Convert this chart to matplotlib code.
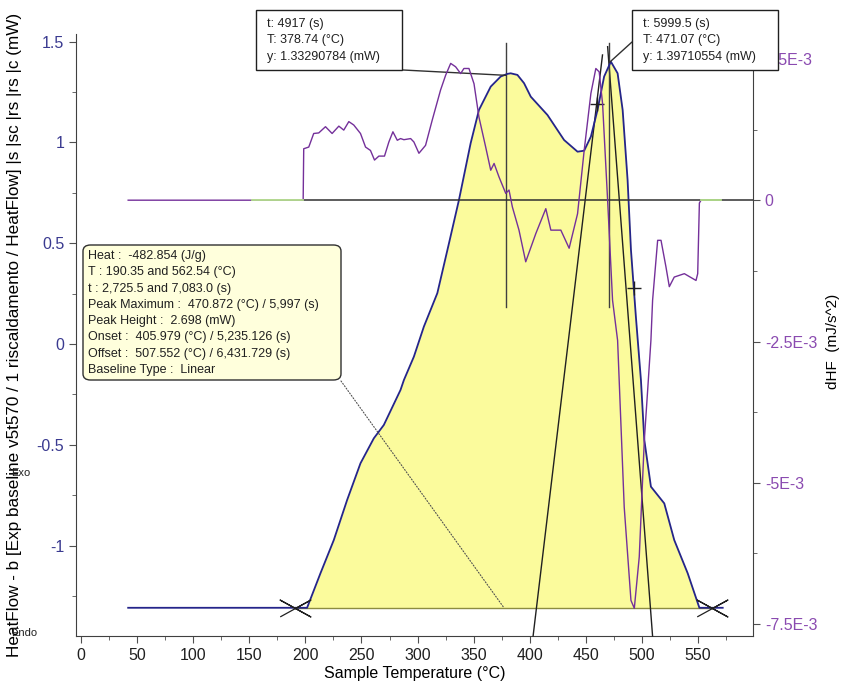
import numpy as np
import matplotlib.pyplot as plt
from matplotlib.patches import Rectangle, FancyBboxPatch
from matplotlib.ticker import MultipleLocator, FuncFormatter

plt.rcParams['font.family'] = ['Liberation Sans', 'DejaVu Sans']

# heat flow (mW)
temp_hf = [42, 190.35, 201.5, 213.4, 225.3, 237.2, 249.1, 261, 269.9, 284.8, 287.8,
           296.7, 305.6, 317.6, 328, 336.9, 347.3, 354.7, 365.2, 374.1, 380, 383,
           389, 394.9, 400.9, 415.8, 430.6, 442.6, 448.5, 454.5, 460.4, 466.3, 472.3,
           478.3, 482.8, 487.2, 490.2, 494.6, 499.1, 502.1, 508, 519.9, 528.8, 540.8,
           551.2, 572]
heat_flow = [-1.309, -1.309, -1.309, -1.138, -0.973, -0.774, -0.592, -0.468, -0.402,
             -0.228, -0.179, -0.063, 0.086, 0.252, 0.500, 0.715, 0.996, 1.161, 1.277,
             1.327, 1.340, 1.343, 1.335, 1.294, 1.227, 1.136, 1.012, 0.954, 0.959, 1.029,
             1.161, 1.327, 1.401, 1.343, 1.161, 0.814, 0.467, 0.135, -0.179, -0.476,
             -0.708, -0.791, -0.973, -1.138, -1.309, -1.309]

# derivative dHF (mJ/s^2)
temp_d = [42, 198.0, 198.5, 203, 207.4, 211.9, 217.9, 223.8, 229.8, 234.2, 238.7, 243.1,
          249.1, 253.6, 258, 261.6, 265.5, 270.5, 274.4, 278, 281.9, 284.8, 287.8,
          293.8, 296.7, 301.2, 307.1, 313.1, 320.5, 325, 329.5, 333.9, 338.4, 341.3,
          345.8, 350.3, 354.7, 360.7, 365.2, 368.2, 372.6, 378.6, 381.5, 384.5, 390.4,
          396.4, 405.4, 414.3, 418.8, 427.7, 435.1, 442.6, 448.5, 454.5, 458.9, 461.9,
          464.9, 469.4, 473.8, 478.3, 484.2, 490.2, 493.2, 497.6, 502.1, 505.1, 508,
          509.5, 514, 517, 521.4, 524.4, 528.8, 537.8, 548.2, 549.7, 551.2, 552.7]
dhf = [0, 0, 0.91, 0.94, 1.18, 1.19, 1.30, 1.18, 1.31, 1.24, 1.39, 1.33,
       1.18, 0.94, 0.88, 0.71, 0.78, 0.78, 1.03, 1.21, 1.06, 1.09, 1.07,
       1.09, 1.03, 0.83, 0.97, 1.42, 1.95, 2.21, 2.42, 2.36, 2.24, 2.33,
       2.33, 2.06, 1.47, 0.94, 0.53, 0.65, 0.41, 0.12, 0.18, -0.12, -0.53,
       -1.09, -0.59, -0.15, -0.53, -0.53, -0.85, -0.24, 0.88, 1.89, 2.33, 2.27,
       1.71, 0.0, -1.77, -2.48, -5.43, -7.08, -7.22, -6.31, -4.25, -3.36, -2.48,
       -1.77, -0.71, -0.71, -1.18, -1.53, -1.36, -1.30, -1.42, -1.30, -0.05, 0]
dhf = [v * 1e-3 for v in dhf]
green_parts = [(152, 198), (552.7, 570.5)]

# integration results
t_start, t_end = 190.35, 562.54
baseline = -1.309
onset, offset = 405.979, 507.552
onset_slope, offset_slope = 0.0466, -0.073
cursor_T = [378.74, 471.07]
cursor_y = [1.33290784, 1.39710554]
cursor_t = ['4917', '5999.5']
marks_T = [459.5, 492.9]
marks_y = [1.191, 0.278]

info_lines = ['Heat :  -482.854 (J/g)',
              'T : 190.35 and 562.54 (°C)',
              't : 2,725.5 and 7,083.0 (s)',
              'Peak Maximum :  470.872 (°C) / 5,997 (s)',
              'Peak Height :  2.698 (mW)',
              'Onset :  405.979 (°C) / 5,235.126 (s)',
              'Offset :  507.552 (°C) / 6,431.729 (s)',
              'Baseline Type :  Linear']

W, H = 842, 686
navy = '#25258a'
purple = '#74309a'
green = '#b4e08c'

fig = plt.figure(figsize=(W / 100, H / 100), dpi=100)
ax = fig.add_axes([76 / W, 1 - 636 / H, 677 / W, 602 / H])
ax.set_xlim(-4.5, 599)
ax.set_ylim(-1.449, 1.538)

# yellow peak area
T = np.array(temp_hf)
Y = np.array(heat_flow)
Tf = np.linspace(t_start, t_end, 600)
Yf = np.interp(Tf, T, Y)
ax.fill_between(Tf, Yf, baseline, color='#fbfb9c', lw=0, zorder=1)
ax.plot([t_start, t_end], [baseline, baseline], color='#8c8c40', lw=1, zorder=2)

ax.plot(T, Y, color=navy, lw=1.3, zorder=5)

# tangents for onset / offset
ax.plot([onset + (-1.449 - baseline) / onset_slope, onset + (1.434 - baseline) / onset_slope],
        [-1.449, 1.434], color='#202020', lw=1, zorder=4, clip_on=False)
ax.plot([offset + (1.475 - baseline) / offset_slope, offset + (-1.449 - baseline) / offset_slope],
        [1.475, -1.449], color='#202020', lw=1, zorder=4, clip_on=False)

# cursors
for ct in cursor_T:
    ax.plot([ct, ct], [0.185, 1.494], color='#404040', lw=1, zorder=4)
ax.plot(marks_T, marks_y, '+', color='#202020', ms=10, mew=1, zorder=6)

# integration limit crosses
xm = [(-1, -0.55), (1, 0.55), (0, 0), (-1, 0.55), (1, -0.55), (0, 0)]
for tl in (t_start, t_end):
    ax.plot([tl], [baseline], marker=xm, ms=22, mfc='none', mec='#202020', mew=0.9,
            ls='none', zorder=6)

ax.xaxis.set_major_locator(MultipleLocator(50))
ax.xaxis.set_minor_locator(MultipleLocator(25))
ax.yaxis.set_major_locator(MultipleLocator(0.5))
ax.yaxis.set_minor_locator(MultipleLocator(0.25))
ax.yaxis.set_major_formatter(FuncFormatter(lambda v, p: f'{v:g}'))
ax.tick_params(axis='both', which='major', direction='out', length=5, labelsize=11.5,
               color='#505050')
ax.tick_params(axis='both', which='minor', direction='out', length=3, color='#505050')
ax.tick_params(axis='y', labelcolor='#3a3a90')
ax.tick_params(axis='x', labelcolor='#202020')
ax.spines['top'].set_visible(False)
ax.spines['right'].set_visible(False)
for s in ('left', 'bottom'):
    ax.spines[s].set_color('#404040')
ax.set_xlabel('Sample Temperature (°C)', fontsize=11.5, labelpad=2)
ax.set_ylabel('HeatFlow - b [Exp baseline v5t570 / 1 riscaldamento / HeatFlow] |s |sc |rs |rs |c (mW)',
              fontsize=12.3)
ax.yaxis.set_label_coords(-0.08, 0.5)

# derivative on right axis
ax2 = ax.twinx()
ax2.set_ylim(-7.71e-3, 2.94e-3)
ax2.plot([197, 599], [0, 0], color='#303030', lw=1.1, zorder=3)
ax2.plot(temp_d, dhf, color=purple, lw=1.0, zorder=4)
for g0, g1 in green_parts:
    ax2.plot([g0, g1], [0, 0], color=green, lw=1.3, zorder=4)
ax2.yaxis.set_major_locator(MultipleLocator(2.5e-3))
ax2.yaxis.set_minor_locator(MultipleLocator(1.25e-3))
ax2.yaxis.set_major_formatter(FuncFormatter(
    lambda v, p: '0' if abs(v) < 1e-9 else f'{v * 1e3:g}E-3'))
ax2.tick_params(axis='y', which='major', direction='out', length=5, labelsize=11.5,
                color='#505050', labelcolor='#8a4ab0')
ax2.tick_params(axis='y', which='minor', direction='out', length=3, color='#505050')
ax2.spines['top'].set_visible(False)
ax2.spines['left'].set_visible(False)
ax2.spines['bottom'].set_visible(False)
ax2.spines['right'].set_color('#404040')
ax2.set_ylabel('dHF  (mJ/s^2)', fontsize=11)
ax2.yaxis.set_label_coords(1.108, 0.49)

# cursor boxes with leader lines
box_x = [256, 632]
for i in range(2):
    fig.add_artist(Rectangle((box_x[i] / W, 1 - 70 / H), 146 / W, 60 / H,
                             transform=fig.transFigure, fc='white', ec='#202020', lw=1))
    txt = [f't: {cursor_t[i]} (s)', f'T: {cursor_T[i]:.2f} (°C)', f'y: {cursor_y[i]:.8f} (mW)']
    for j, line in enumerate(txt):
        fig.text((box_x[i] + 11) / W, 1 - (24 + 16.3 * j) / H, line, fontsize=9,
                 va='center', ha='left', color='#202020', zorder=5)
ax2.annotate('', xy=(cursor_T[0], cursor_y[0]), xycoords=ax.transData,
             xytext=(403 / W, 1 - 70 / H), textcoords='figure fraction',
             arrowprops=dict(arrowstyle='-', color='#303030', lw=1, shrinkA=0, shrinkB=0))
ax2.annotate('', xy=(cursor_T[1], cursor_y[1]), xycoords=ax.transData,
             xytext=(632 / W, 1 - 42 / H), textcoords='figure fraction',
             arrowprops=dict(arrowstyle='-', color='#303030', lw=1, shrinkA=0, shrinkB=0))

# integration info box
ax2.annotate('', xy=(377, baseline), xycoords=ax.transData,
             xytext=(341 / W, 1 - 381 / H), textcoords='figure fraction',
             arrowprops=dict(arrowstyle='-', color='#505050', lw=0.8, ls=':',
                             shrinkA=0, shrinkB=0))
fig.add_artist(FancyBboxPatch((83 / W, 1 - 380 / H), 258 / W, 135 / H,
                              boxstyle='round,pad=0,rounding_size=0.009',
                              transform=fig.transFigure, fc='#ffffdc', ec='#303030', lw=1))
for j, line in enumerate(info_lines):
    fig.text(88 / W, 1 - (256 + 16.3 * j) / H, line, fontsize=9, va='center', ha='left',
             color='#202020', zorder=5)

fig.text(11 / W, 1 - 473 / H, 'Exo', fontsize=8, va='center', color='#202020')
fig.text(11 / W, 1 - 633 / H, 'Endo', fontsize=8, va='center', color='#202020')

fig.savefig('out.png', dpi=100)
